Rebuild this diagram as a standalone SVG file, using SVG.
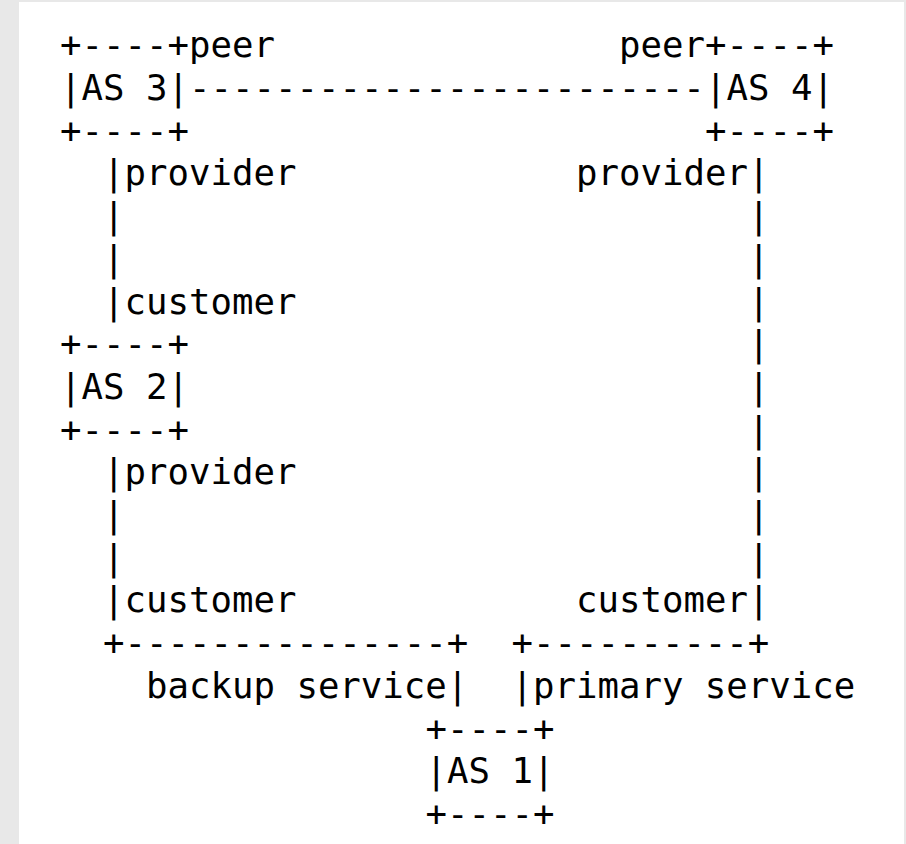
<svg xmlns="http://www.w3.org/2000/svg" width="906" height="844" viewBox="0 0 906 844">
<style>
.t { font-family: "DejaVu Sans Mono", "Liberation Mono", monospace; font-size: 35.7px; fill: #000; white-space: pre; }
</style>
<rect x="0" y="0" width="906" height="844" fill="#e8e8e8"/>
<rect x="19" y="2" width="885" height="842" fill="#ffffff"/>
<g id="connectors" class="t" xml:space="preserve">
  <g id="peer-3-4">
    <text x="189" y="57.3">peer</text>
    <text x="619" y="57.3">peer</text>
    <text x="189" y="100">------------------------</text>
  </g>
  <g id="as3-as2">
    <text x="103" y="185.4">|provider</text>
    <text x="103" y="228.1">|</text>
    <text x="103" y="270.8">|</text>
    <text x="103" y="313.5">|customer</text>
  </g>
  <g id="as2-as1">
    <text x="103" y="484.3">|provider</text>
    <text x="103" y="527">|</text>
    <text x="103" y="569.7">|</text>
    <text x="103" y="612.4">|customer</text>
    <text x="103" y="655.1">+---------------+</text>
    <text x="146" y="697.8">backup service|</text>
  </g>
  <g id="as4-as1">
    <text x="576" y="185.4">provider|</text>
    <text x="748" y="228.1">|</text>
    <text x="748" y="270.8">|</text>
    <text x="748" y="313.5">|</text>
    <text x="748" y="356.2">|</text>
    <text x="748" y="398.9">|</text>
    <text x="748" y="441.6">|</text>
    <text x="748" y="484.3">|</text>
    <text x="748" y="527">|</text>
    <text x="748" y="569.7">|</text>
    <text x="576" y="612.4">customer|</text>
    <text x="511.5" y="655.1">+----------+</text>
    <text x="511.5" y="697.8">|primary service</text>
  </g>
</g>
<g id="as3" class="t" xml:space="preserve">
  <text x="60" y="57.3">+----+</text>
  <text x="60" y="100">|AS 3|</text>
  <text x="60" y="142.7">+----+</text>
</g>
<g id="as4" class="t" xml:space="preserve">
  <text x="705" y="57.3">+----+</text>
  <text x="705" y="100">|AS 4|</text>
  <text x="705" y="142.7">+----+</text>
</g>
<g id="as2" class="t" xml:space="preserve">
  <text x="60" y="356.2">+----+</text>
  <text x="60" y="398.9">|AS 2|</text>
  <text x="60" y="441.6">+----+</text>
</g>
<g id="as1" class="t" xml:space="preserve">
  <text x="425.5" y="740.5">+----+</text>
  <text x="425.5" y="783.2">|AS 1|</text>
  <text x="425.5" y="825.9">+----+</text>
</g>
</svg>
